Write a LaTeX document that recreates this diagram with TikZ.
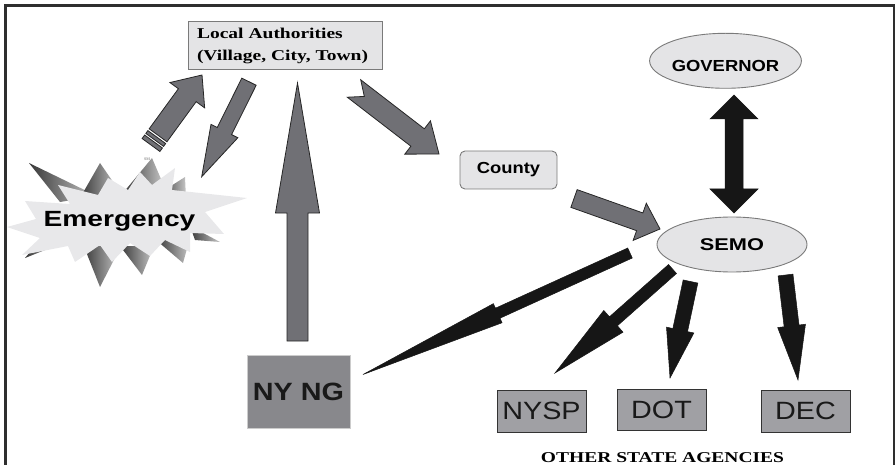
\documentclass[tikz,border=0pt]{standalone}
\usepackage{fontspec}
\setmainfont{Liberation Serif}
\newfontfamily\serifw{Liberation Serif}[FakeStretch=1.3]
\newfontfamily\sansw{Liberation Sans}[FakeStretch=1.15]
\newfontfamily\sansww{Liberation Sans}[FakeStretch=1.28]
\usetikzlibrary{calc,shapes.geometric}
\definecolor{boxgray}{HTML}{E4E4E6}
\definecolor{arrgray}{HTML}{707075}
\definecolor{edgegray}{HTML}{7A7A7A}
\definecolor{ngfill}{HTML}{88888C}
\definecolor{agfill}{HTML}{A0A0A4}
\definecolor{burstlight}{HTML}{E8E8EA}
\definecolor{arrblack}{HTML}{161616}
\definecolor{frame}{HTML}{2E2E2E}
% block arrow: style, tail, tip, shaft half width, head half width, head length, notch depth
\newcommand{\blockarr}[7]{%
  \coordinate (bah) at ($(#3)!#6!(#2)$);
  \draw[#1] ($(#2)!#4!90:(#3)$) -- ($(bah)!#4!90:(#3)$) -- ($(bah)!#5!90:(#3)$) -- (#3)
    -- ($(bah)!#5!-90:(#3)$) -- ($(bah)!#4!-90:(#3)$) -- ($(#2)!#4!-90:(#3)$)
    -- ($(#2)!#7!(#3)$) -- cycle;}
% band segment along an axis: style, from, to, half width, d1, d2
\newcommand{\bandseg}[6]{%
  \coordinate (bsa) at ($(#2)!#5!(#3)$);
  \coordinate (bsb) at ($(#2)!#6!(#3)$);
  \draw[#1] ($(bsa)!#4!90:(#3)$) -- ($(bsb)!#4!90:(#3)$) -- ($(bsb)!#4!-90:(#3)$)
    -- ($(bsa)!#4!-90:(#3)$) -- cycle;}
% double headed block arrow: style, end1, end2, shaft hw, head hw, head length
\newcommand{\dblarr}[6]{%
  \coordinate (dba) at ($(#2)!#6!(#3)$);
  \coordinate (dbb) at ($(#3)!#6!(#2)$);
  \draw[#1] (#2) -- ($(dba)!#5!90:(#3)$) -- ($(dba)!#4!90:(#3)$) -- ($(dbb)!#4!90:(#3)$)
    -- ($(dbb)!#5!90:(#3)$) -- (#3) -- ($(dbb)!#5!-90:(#3)$) -- ($(dbb)!#4!-90:(#3)$)
    -- ($(dba)!#4!-90:(#3)$) -- ($(dba)!#5!-90:(#3)$) -- cycle;}
\tikzset{
  grayarr/.style={fill=arrgray, draw=black!85, line width=0.8pt, line join=miter},
  blackarr/.style={fill=arrblack, draw=arrblack, line width=0.5pt},
  labox/.style={rectangle, draw=edgegray, fill=boxgray, line width=1pt, inner sep=0pt},
  oval/.style={ellipse, draw=edgegray, fill=boxgray, line width=0.9pt, inner sep=0pt},
  agbox/.style={rectangle, draw=black!80, fill=agfill, line width=0.9pt, inner sep=0pt,
    minimum width=89pt, minimum height=42pt, text=black!90,
    font=\sansw\fontsize{25}{28}\selectfont},
  spike/.style={left color=black!78, right color=black!22},
  burst/.style={fill=burstlight, draw=none},
}
\begin{document}
\begin{tikzpicture}[x=1pt,y=-1pt]
\useasboundingbox (0,0) rectangle (896,465);
% frame
\draw[frame, line width=2.6pt] (5.3,465) -- (5.3,5.3) -- (894,5.3) -- (894,465);

% nodes
\node[labox, minimum width=194pt, minimum height=48pt, text width=176pt, align=left,
  font=\serifw\bfseries\fontsize{15}{22}\selectfont]
  (local) at (285,46) {Local Authorities\\(Village, City, Town)};
\node[oval, minimum width=149pt, minimum height=55pt, text height=20.5pt, text depth=0pt,
  font=\sansw\bfseries\fontsize{16}{18}\selectfont]
  (gov) at (725.5,60.8) {GOVERNOR};
\node[oval, minimum width=150pt, minimum height=55pt, font=\sansww\bfseries\fontsize{17}{19}\selectfont]
  (semo) at (732,244.5) {SEMO};
\node[rectangle, rounded corners=5pt, draw=edgegray, fill=boxgray, line width=0.9pt, inner sep=0pt,
  minimum width=97pt, minimum height=38pt, font=\sansw\bfseries\fontsize{16}{18}\selectfont]
  (county) at (508.5,170) {County};
\node[rectangle, draw=black!20, fill=ngfill, line width=1pt, inner sep=0pt,
  minimum width=103pt, minimum height=73pt, text=black!90,
  font=\sansw\bfseries\fontsize{25}{28}\selectfont] (nyng) at (298.5,391.5) {NY NG};
\node[agbox] (nysp) at (541.5,411) {NYSP};
\node[agbox, minimum height=41pt] (dot) at (661.5,409.5) {DOT};
\node[agbox] (dec) at (805.5,411) {DEC};
\node[inner sep=0pt, font=\serifw\bfseries\fontsize{15}{17}\selectfont] (osa) at (662.5,457.5) {OTHER STATE AGENCIES};

% emergency burst: dark spikes behind
\shade[spike] (29,163) -- (97,196) -- (60,202) -- cycle;
\shade[spike] (100,163) -- (120,192) -- (80,198) -- cycle;
\shade[spike] (152,158) -- (164,186) -- (123,193) -- cycle;
\shade[spike] (185,177) -- (186,199) -- (160,193) -- cycle;
\shade[spike] (100,287) -- (83,244) -- (120,248) -- cycle;
\shade[spike] (142,275) -- (120,246) -- (154,246) -- cycle;
\shade[spike] (183,263) -- (156,240) -- (190,238) -- cycle;
\shade[spike] (25,258) -- (42,238) -- (65,242) -- cycle;
\shade[spike] (220,242) -- (190,226) -- (195,240) -- cycle;
% light burst
\fill[burst] (7,227) -- (36,219) -- (25,201) -- (70,204) -- (58,185) -- (98,195) -- (108,178)
  -- (128,190) -- (140,172) -- (152,185) -- (175,168) -- (172,190) -- (247,198) -- (205,212)
  -- (224,234) -- (190,233) -- (190,252) -- (165,240) -- (150,256) -- (130,243) -- (112,262)
  -- (100,245) -- (75,262) -- (68,246) -- (22,255) -- (40,238) -- cycle;
\node[inner sep=0pt, anchor=base, font=\sansww\bfseries\fontsize{22}{24}\selectfont]
  (emerg) at (119.5,226) {Emergency};
\node[inner sep=0pt, text=black!60, font=\fontsize{4}{4}\selectfont] (sm) at (147,159) {SM};

% arrow end points
\coordinate (emT) at (151,145);   \coordinate (emH) at (202,75);
\coordinate (emT2) at ($(emT)!12pt!(emH)$);
\coordinate (laT) at (249,81.7);  \coordinate (laH) at (201.7,176.7);
\coordinate (ngT) at (297.5,341); \coordinate (ngH) at (297.5,83);
\coordinate (lcT) at (354,88.5);  \coordinate (lcH) at (439,154);
\coordinate (csT) at (574,198.5); \coordinate (csH) at (660,229);
\coordinate (snT) at (630,253);   \coordinate (snH) at (363,374.5);
\coordinate (spT) at (672.5,269); \coordinate (spH) at (555,373);
\coordinate (sdT) at (690.5,281.5); \coordinate (sdH) at (670,378);
\coordinate (seT) at (785.5,275); \coordinate (seH) at (798,380);
\coordinate (gvE) at (734,95);    \coordinate (smE) at (734,213);

% gray arrows
\blockarr{grayarr}{emT2}{emH}{11pt}{21.5pt}{25pt}{0pt}
\bandseg{grayarr}{emT}{emH}{11pt}{6.3pt}{9.8pt}
\bandseg{grayarr}{emT}{emH}{11pt}{0pt}{4.3pt}
\blockarr{grayarr}{laT}{laH}{8pt}{15pt}{51pt}{0pt}
\blockarr{grayarr}{ngT}{ngH}{10.5pt}{22pt}{130pt}{0pt}
\blockarr{grayarr}{lcT}{lcH}{11pt}{21pt}{27pt}{13pt}
\blockarr{grayarr}{csT}{csH}{9.4pt}{19.7pt}{21.5pt}{0pt}
% black arrows
\dblarr{blackarr}{gvE}{smE}{9pt}{24pt}{24pt}
\blockarr{blackarr}{snT}{snH}{5.5pt}{10.5pt}{148pt}{0pt}
\blockarr{blackarr}{spT}{spH}{6pt}{14.5pt}{78pt}{0pt}
\blockarr{blackarr}{sdT}{sdH}{7.5pt}{14pt}{49pt}{0pt}
\blockarr{blackarr}{seT}{seH}{7.5pt}{14pt}{54.5pt}{0pt}
\end{tikzpicture}
\end{document}
